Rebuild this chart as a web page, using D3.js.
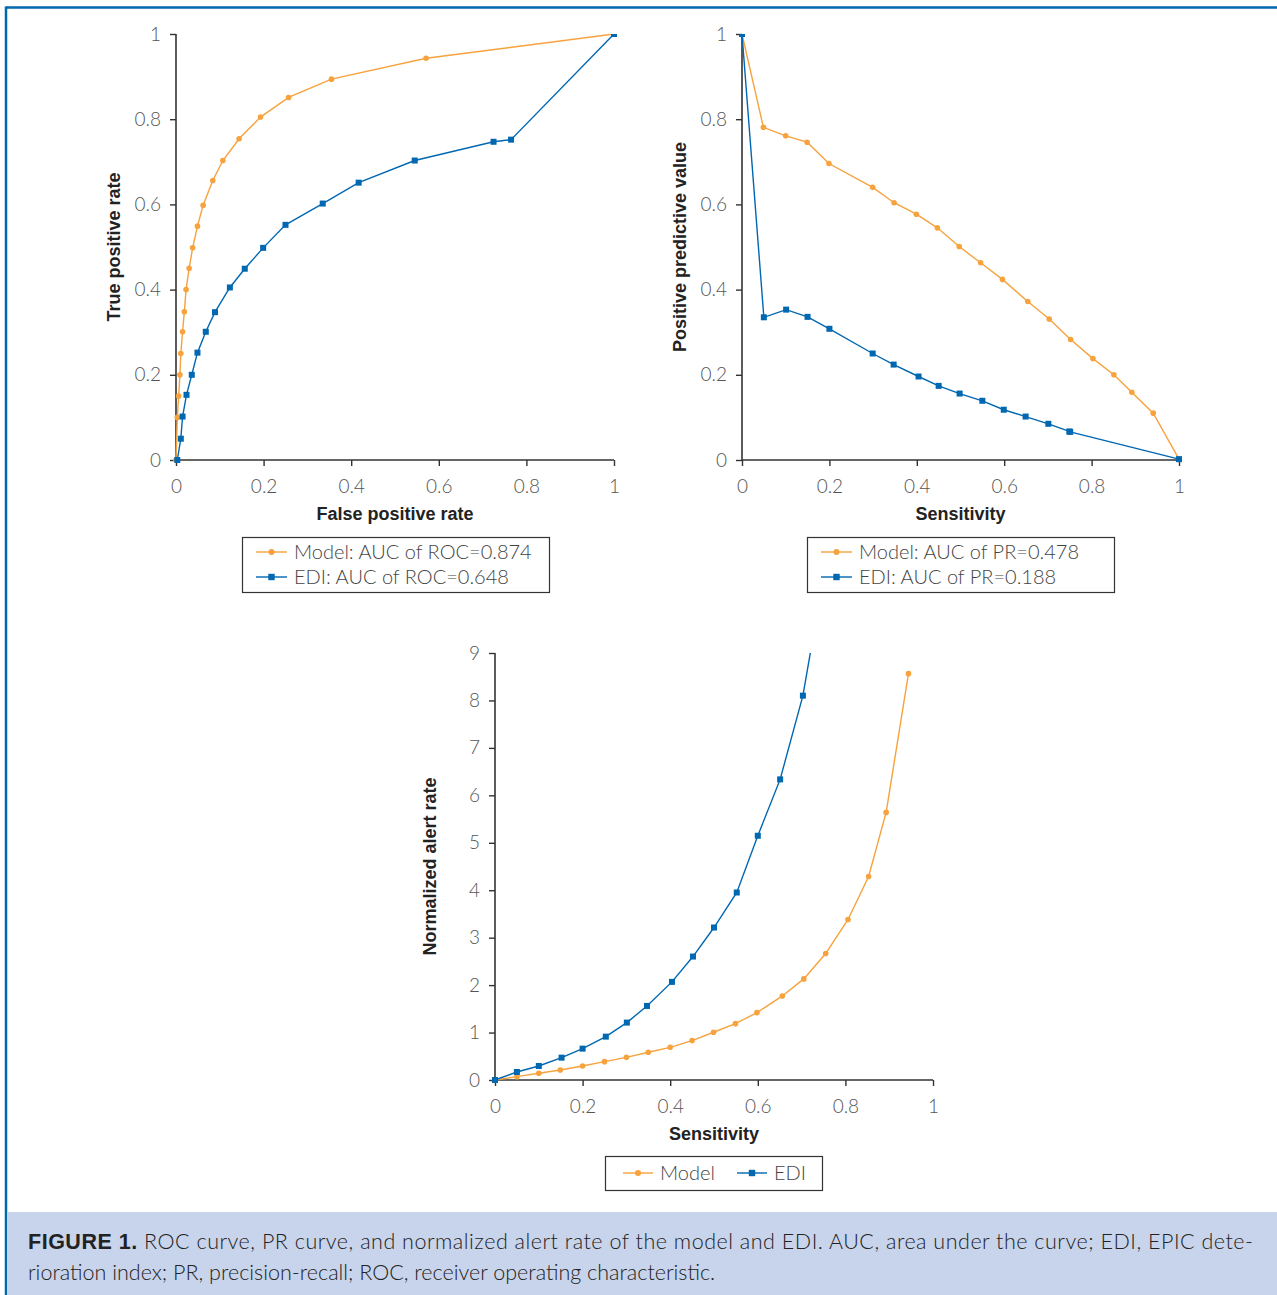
<!DOCTYPE html>
<html>
<head>
<meta charset="utf-8">
<script src="https://cdn.jsdelivr.net/npm/d3@7"></script>
<style>
  body { margin: 0; background: #fff; }
  svg { display: block; }
</style>
</head>
<body>
<svg></svg>
<script>
// ROC curve (false positive rate, true positive rate)
const rocModelFpr = [0, 0.003, 0.006, 0.009, 0.011, 0.015, 0.019, 0.023, 0.030, 0.038, 0.049, 0.062, 0.084, 0.107, 0.144, 0.193, 0.257, 0.355, 0.571, 1];
const rocModelTpr = [0, 0.100, 0.150, 0.200, 0.250, 0.301, 0.348, 0.400, 0.450, 0.498, 0.549, 0.598, 0.656, 0.703, 0.754, 0.805, 0.851, 0.894, 0.943, 1];
const rocEdiFpr = [0.003, 0.011, 0.015, 0.024, 0.036, 0.049, 0.068, 0.089, 0.123, 0.157, 0.199, 0.250, 0.335, 0.417, 0.545, 0.725, 0.765, 1];
const rocEdiTpr = [0, 0.050, 0.102, 0.153, 0.200, 0.252, 0.301, 0.347, 0.405, 0.449, 0.498, 0.552, 0.602, 0.651, 0.703, 0.747, 0.752, 1];

// PR curve (sensitivity, positive predictive value)
const prModelSens = [0, 0.049, 0.100, 0.149, 0.199, 0.299, 0.348, 0.399, 0.447, 0.497, 0.546, 0.596, 0.654, 0.703, 0.752, 0.803, 0.851, 0.892, 0.941, 1];
const prModelPpv = [1, 0.781, 0.761, 0.746, 0.696, 0.640, 0.604, 0.577, 0.545, 0.501, 0.463, 0.424, 0.372, 0.331, 0.283, 0.238, 0.200, 0.159, 0.110, 0.002];
const prEdiSens = [0, 0.050, 0.101, 0.150, 0.200, 0.299, 0.347, 0.404, 0.450, 0.498, 0.550, 0.599, 0.649, 0.701, 0.749, 0.751, 1];
const prEdiPpv = [1, 0.335, 0.353, 0.336, 0.308, 0.250, 0.224, 0.196, 0.174, 0.156, 0.139, 0.118, 0.102, 0.085, 0.067, 0.066, 0.002];

// Normalized alert rate (sensitivity, rate)
const alertModelSens = [0, 0.05, 0.10, 0.149, 0.20, 0.25, 0.30, 0.35, 0.40, 0.45, 0.499, 0.549, 0.598, 0.656, 0.705, 0.755, 0.806, 0.853, 0.893, 0.944];
const alertModelRate = [0, 0.070, 0.141, 0.211, 0.295, 0.387, 0.478, 0.584, 0.689, 0.830, 1.006, 1.188, 1.42, 1.772, 2.131, 2.665, 3.383, 4.29, 5.64, 8.565];
const alertEdiSens = [0, 0.050, 0.100, 0.152, 0.200, 0.253, 0.301, 0.347, 0.404, 0.452, 0.500, 0.552, 0.600, 0.651, 0.703, 0.75];
const alertEdiRate = [0, 0.169, 0.295, 0.471, 0.661, 0.914, 1.21, 1.561, 2.068, 2.602, 3.214, 3.952, 5.148, 6.336, 8.101, 10.6];

const unitTicks = [0, 0.2, 0.4, 0.6, 0.8, 1];
const unitTickLabels = ['0', '0.2', '0.4', '0.6', '0.8', '1'];
const alertTicks = [0, 1, 2, 3, 4, 5, 6, 7, 8, 9];

const rocLegend = ['Model: AUC of ROC=0.874', 'EDI: AUC of ROC=0.648'];
const prLegend = ['Model: AUC of PR=0.478', 'EDI: AUC of PR=0.188'];
const alertLegend = ['Model', 'EDI'];

const captionBold = 'FIGURE 1.';
const captionLine1 = ' ROC curve, PR curve, and normalized alert rate of the model and EDI. AUC, area under the curve; EDI, EPIC dete-';
const captionLine2 = 'rioration index; PR, precision-recall; ROC, receiver operating characteristic.';

const WIDTH = 1277;
const HEIGHT = 1295;
const ORANGE = '#f7a23c';
const BLUE = '#0067b1';
const AXIS_COLOR = '#333';
const TICK_FONT = 'Lato, "Open Sans", sans-serif';
const TITLE_FONT = '"Liberation Sans", Arial, sans-serif';

const svg = d3.select('svg').
attr('width', WIDTH).
attr('height', HEIGHT);

// frame
svg.append('line').attr('x1', 6).attr('x2', WIDTH).attr('y1', 7.5).attr('y2', 7.5).
attr('stroke', BLUE).attr('stroke-width', 2.5);
svg.append('line').attr('x1', 6).attr('x2', 6).attr('y1', 6.5).attr('y2', HEIGHT).
attr('stroke', BLUE).attr('stroke-width', 2.5);

const zip = (xs, ys) => xs.map((x, i) => [x, ys[i]]);

let clipCount = 0;

function panel(opts) {
  const { left, top, width, height, yDomain, yTicks, yLabels, xTitle, yTitle, yTitleX, series } = opts;

  const xScale = d3.scaleLinear().domain([0, 1]).range([left, left + width]);
  const yScale = d3.scaleLinear().domain(yDomain).range([top + height, top]);

  const g = svg.append('g');

  const xAxis = d3.axisBottom(xScale).
  tickValues(unitTicks).
  tickFormat((d, i) => unitTickLabels[i]).
  tickSize(6).
  tickPadding(14);

  const yAxis = d3.axisLeft(yScale).
  tickValues(yTicks).
  tickFormat((d, i) => yLabels[i]).
  tickSize(6).
  tickPadding(9);

  const xg = g.append('g').
  attr('transform', `translate(0,${top + height})`).
  call(xAxis);
  const yg = g.append('g').
  attr('transform', `translate(${left},0)`).
  call(yAxis);

  [xg, yg].forEach(ax => {
    ax.select('.domain').attr('stroke', AXIS_COLOR).attr('stroke-width', 1.6);
    ax.selectAll('.tick line').attr('stroke', AXIS_COLOR).attr('stroke-width', 1.4);
    ax.selectAll('.tick text').
    attr('fill', '#555').
    attr('font-family', TICK_FONT).
    attr('font-weight', 300).
    attr('font-size', 19);
  });
  // trim the outer domain ticks so only the axis line remains
  xg.select('.domain').attr('d', `M${left},0H${left + width}`);
  yg.select('.domain').attr('d', `M0,${top + height}V${top}`);

  g.append('text').
  attr('x', left + width / 2).
  attr('y', top + height + 60).
  attr('text-anchor', 'middle').
  attr('font-family', TITLE_FONT).
  attr('font-weight', 'bold').
  attr('font-size', 18).
  attr('fill', '#222').
  text(xTitle);

  g.append('text').
  attr('transform', `translate(${yTitleX},${top + height / 2}) rotate(-90)`).
  attr('text-anchor', 'middle').
  attr('font-family', TITLE_FONT).
  attr('font-weight', 'bold').
  attr('font-size', 18).
  attr('fill', '#222').
  text(yTitle);

  const clipId = 'clip' + clipCount++;
  svg.append('clipPath').attr('id', clipId).
  append('rect').
  attr('x', left - 6).attr('y', top).
  attr('width', width + 12).attr('height', height + 6);

  const plot = g.append('g').attr('clip-path', `url(#${clipId})`);
  const line = d3.line().x(d => xScale(d[0])).y(d => yScale(d[1]));

  series.forEach(s => {
    plot.append('path').
    datum(s.points).
    attr('d', line).
    attr('fill', 'none').
    attr('stroke', s.color).
    attr('stroke-width', 1.4);

    if (s.shape === 'circle') {
      plot.selectAll(null).
      data(s.points).
      join('circle').
      attr('cx', d => xScale(d[0])).
      attr('cy', d => yScale(d[1])).
      attr('r', 2.8).
      attr('fill', s.color);
    } else {
      plot.selectAll(null).
      data(s.points).
      join('rect').
      attr('x', d => xScale(d[0]) - 3).
      attr('y', d => yScale(d[1]) - 3).
      attr('width', 6).
      attr('height', 6).
      attr('fill', s.color);
    }
  });
}

function marker(g, shape, color, cx, cy) {
  if (shape === 'circle') {
    g.append('circle').attr('cx', cx).attr('cy', cy).attr('r', 3).attr('fill', color);
  } else {
    g.append('rect').attr('x', cx - 3.2).attr('y', cy - 3.2).attr('width', 6.4).attr('height', 6.4).attr('fill', color);
  }
}

function legendStacked(x, y, w, h, labels) {
  const g = svg.append('g');
  g.append('rect').attr('x', x + 0.5).attr('y', y + 0.5).attr('width', w).attr('height', h).
  attr('fill', '#fff').attr('stroke', '#333').attr('stroke-width', 1.2);
  const styles = [{ color: ORANGE, shape: 'circle' }, { color: BLUE, shape: 'square' }];
  labels.forEach((label, i) => {
    const cy = y + 15 + i * 25;
    g.append('line').attr('x1', x + 14).attr('x2', x + 45).attr('y1', cy).attr('y2', cy).
    attr('stroke', styles[i].color).attr('stroke-width', 1.4);
    marker(g, styles[i].shape, styles[i].color, x + 29.5, cy);
    g.append('text').attr('x', x + 52).attr('y', cy + 7).
    attr('font-family', TICK_FONT).attr('font-weight', 300).attr('font-size', 20).
    attr('fill', '#444').text(label);
  });
}

function legendInline(x, y, w, h, labels) {
  const g = svg.append('g');
  g.append('rect').attr('x', x + 0.5).attr('y', y + 0.5).attr('width', w).attr('height', h).
  attr('fill', '#fff').attr('stroke', '#333').attr('stroke-width', 1.2);
  const styles = [{ color: ORANGE, shape: 'circle', dx: 18 }, { color: BLUE, shape: 'square', dx: 132 }];
  const cy = y + h / 2;
  labels.forEach((label, i) => {
    const sx = x + styles[i].dx;
    g.append('line').attr('x1', sx).attr('x2', sx + 30).attr('y1', cy).attr('y2', cy).
    attr('stroke', styles[i].color).attr('stroke-width', 1.4);
    marker(g, styles[i].shape, styles[i].color, sx + 15, cy);
    g.append('text').attr('x', sx + 37).attr('y', cy + 7).
    attr('font-family', TICK_FONT).attr('font-weight', 300).attr('font-size', 20).
    attr('fill', '#444').text(label);
  });
}

// ROC panel
panel({
  left: 176, top: 34, width: 438, height: 426,
  yDomain: [0, 1], yTicks: unitTicks, yLabels: unitTickLabels,
  xTitle: 'False positive rate', yTitle: 'True positive rate', yTitleX: 120,
  series: [
  { points: zip(rocModelFpr, rocModelTpr), color: ORANGE, shape: 'circle' },
  { points: zip(rocEdiFpr, rocEdiTpr), color: BLUE, shape: 'square' }]
});
legendStacked(242, 537, 307, 55, rocLegend);

// PR panel
panel({
  left: 742, top: 34, width: 437, height: 426,
  yDomain: [0, 1], yTicks: unitTicks, yLabels: unitTickLabels,
  xTitle: 'Sensitivity', yTitle: 'Positive predictive value', yTitleX: 686,
  series: [
  { points: zip(prModelSens, prModelPpv), color: ORANGE, shape: 'circle' },
  { points: zip(prEdiSens, prEdiPpv), color: BLUE, shape: 'square' }]
});
legendStacked(807, 537, 307, 55, prLegend);

// Normalized alert rate panel
panel({
  left: 495, top: 653, width: 438, height: 427,
  yDomain: [0, 9], yTicks: alertTicks, yLabels: alertTicks.map(String),
  xTitle: 'Sensitivity', yTitle: 'Normalized alert rate', yTitleX: 436,
  series: [
  { points: zip(alertModelSens, alertModelRate), color: ORANGE, shape: 'circle' },
  { points: zip(alertEdiSens, alertEdiRate), color: BLUE, shape: 'square' }]
});
legendInline(605, 1156, 217, 34, alertLegend);

// caption
svg.append('rect').
attr('x', 7.5).attr('y', 1212).
attr('width', WIDTH - 7.5).attr('height', HEIGHT - 1212).
attr('fill', '#c8d4eb');

const cap1 = svg.append('text').
attr('x', 28).attr('y', 1249).
attr('textLength', 1225).
attr('lengthAdjust', 'spacing').
attr('font-family', TICK_FONT).attr('font-size', 21.5).attr('fill', '#222');
cap1.append('tspan').attr('font-weight', 'bold').attr('font-family', TITLE_FONT).text(captionBold);
cap1.append('tspan').attr('font-weight', 300).text(captionLine1);

svg.append('text').
attr('x', 28).attr('y', 1280).
attr('font-family', TICK_FONT).attr('font-weight', 300).attr('font-size', 21.5).attr('fill', '#222').
text(captionLine2);
</script>
</body>
</html>
